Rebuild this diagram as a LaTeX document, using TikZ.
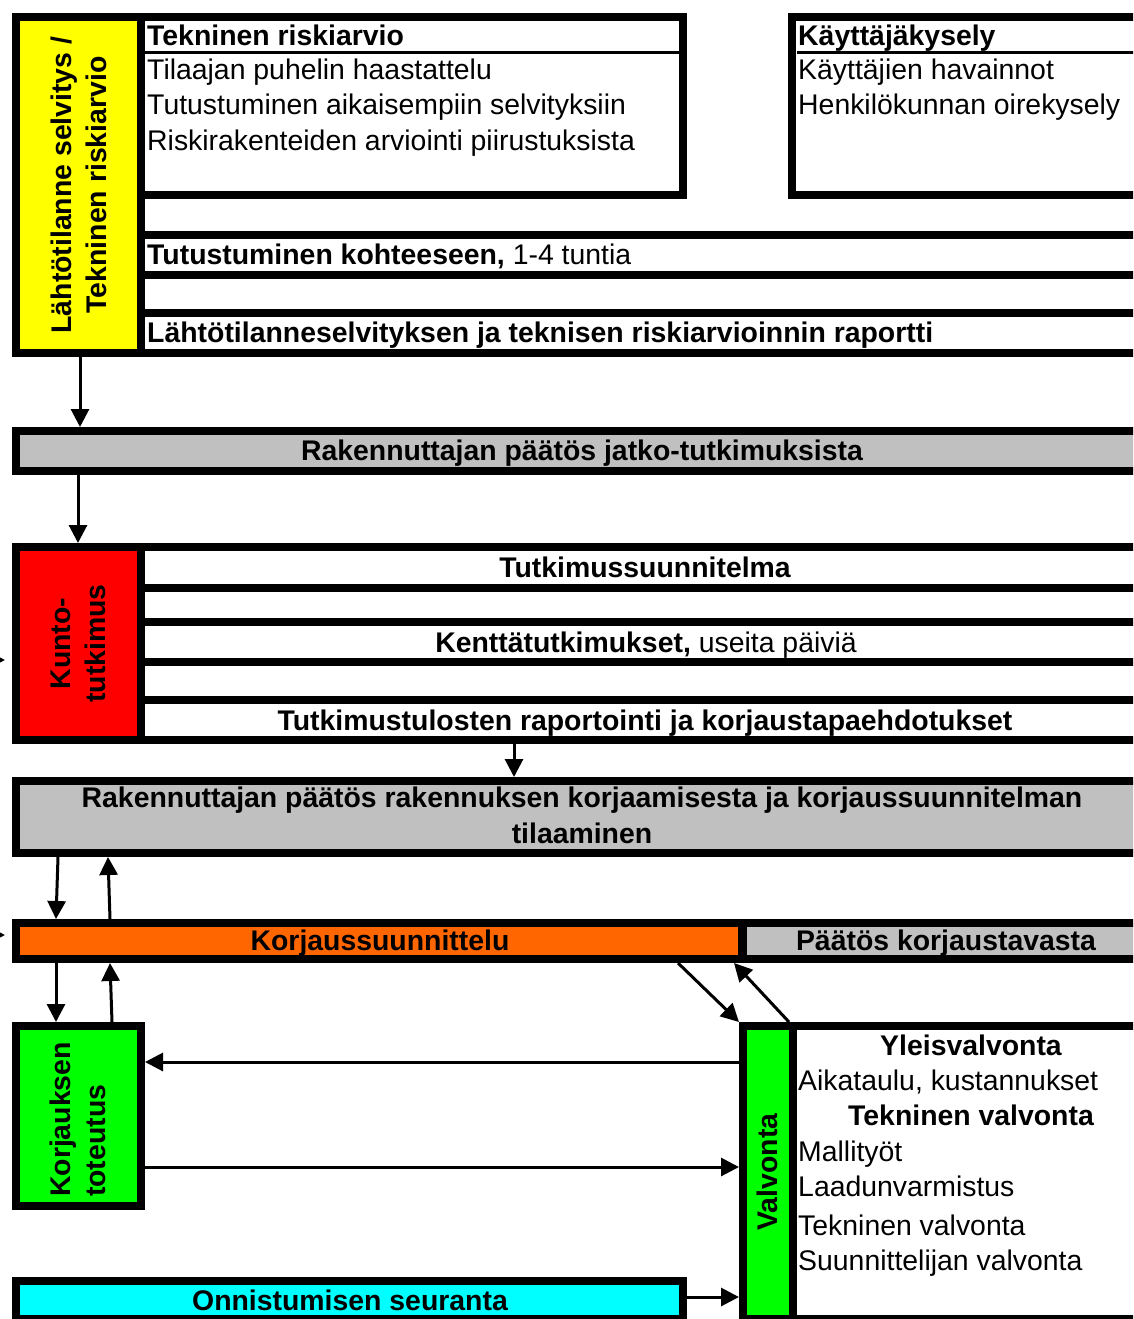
\documentclass[tikz,border=0pt]{standalone}
\usepackage{fontspec}
\setmainfont{Liberation Sans}
\usetikzlibrary{arrows.meta,calc}
\definecolor{cyel}{HTML}{FFFF00}
\definecolor{cred}{HTML}{FF0000}
\definecolor{cgray}{HTML}{C0C0C0}
\definecolor{corange}{HTML}{FF6600}
\definecolor{cgreen}{HTML}{00FF00}
\definecolor{ccyan}{HTML}{00FFFF}
\begin{document}
\begin{tikzpicture}[x=1pt,y=-1pt,
  box/.style={draw=black,line width=8pt,inner sep=0pt,outer sep=4pt,anchor=north west},
  hline/.style={line width=3pt},
  arr/.style={line width=3pt,-{Triangle[length=18pt,width=18pt]}},
  txt/.style={inner sep=0pt,text=black,font=\fontsize{28.4}{35}\selectfont},
  btxt/.style={inner sep=0pt,text=black,font=\fontsize{28.4}{35}\selectfont\bfseries},
  lw/.style={txt,anchor=base west},
  blw/.style={btxt,anchor=base west},
  bc/.style={btxt,anchor=base},
]
\useasboundingbox (0,0) rectangle (1133,1319);
\clip (0,0) rectangle (1133,1319);
\fill[white] (0,0) rectangle (1133,1319);

% ---------- top group ----------
\node[box,fill=white,minimum width=542pt,minimum height=178pt] (tr) at (137,13) {};
\node[box,fill=white,minimum width=354pt,minimum height=178pt] (kk) at (788,13) {};
\node[box,fill=white,minimum width=1005pt,minimum height=40pt] (tk) at (137,231) {};
\node[box,fill=white,minimum width=1005pt,minimum height=40pt] (rp) at (137,309) {};
\node[box,fill=cyel,minimum width=125pt,minimum height=336pt] (lt) at (12,13) {};
\draw[hline] (145,52.5) -- (679,52.5);
\draw[hline] (797,52.5) -- (1140,52.5);

\node[btxt,rotate=90,align=center] (ltl) at (lt.center) {Lähtötilanne selvitys /\\Tekninen riskiarvio};
\node[blw] (trh) at (147,46) {Tekninen riskiarvio};
\node[lw] (tr1) at (147,80) {Tilaajan puhelin haastattelu};
\node[lw] (tr2) at (147,115) {Tutustuminen aikaisempiin selvityksiin};
\node[lw] (tr3) at (147,150) {Riskirakenteiden arviointi piirustuksista};
\node[blw] (kkh) at (798,46) {Käyttäjäkysely};
\node[lw] (kk1) at (798,80) {Käyttäjien havainnot};
\node[lw] (kk2) at (798,115) {Henkilökunnan oirekysely};
\node[lw] (tkl) at (147,264) {\textbf{Tutustuminen kohteeseen,} 1-4 tuntia};
\node[blw] (rpl) at (147,342) {Lähtötilanneselvityksen ja teknisen riskiarvioinnin raportti};

% ---------- decision 1 ----------
\node[box,fill=cgray,minimum width=1130pt,minimum height=40pt] (g1) at (12,427) {};
\node[bc] (g1l) at (582,460) {Rakennuttajan päätös jatko-tutkimuksista};

% ---------- kuntotutkimus ----------
\node[box,fill=white,minimum width=1005pt,minimum height=41pt] (r1) at (137,543) {};
\node[box,fill=white,minimum width=1005pt,minimum height=40pt] (r3) at (137,618) {};
\node[box,fill=white,minimum width=1005pt,minimum height=40pt] (r5) at (137,696) {};
\node[box,fill=cred,minimum width=125pt,minimum height=193pt] (kt) at (12,543) {};
\node[btxt,rotate=90,align=center] (ktl) at (kt.center) {Kunto-\\tutkimus};
\node[bc] (r1l) at (645,577) {Tutkimussuunnitelma};
\node[txt,anchor=base] (r3l) at (646,652) {\textbf{Kenttätutkimukset,} useita päiviä};
\node[bc] (r5l) at (645,730) {Tutkimustulosten raportointi ja korjaustapaehdotukset};

% ---------- decision 2 ----------
\node[box,fill=cgray,minimum width=1130pt,minimum height=72pt] (g2) at (12,777) {};
\node[bc] (g2a) at (582,807) {Rakennuttajan päätös rakennuksen korjaamisesta ja korjaussuunnitelman};
\node[bc] (g2b) at (582,843) {tilaaminen};

% ---------- korjaussuunnittelu ----------
\node[box,fill=corange,minimum width=726pt,minimum height=36pt] (ks) at (12,919) {};
\node[box,fill=cgray,minimum width=403pt,minimum height=36pt] (pk) at (739,919) {};
\node[bc] (ksl) at (380,950) {Korjaussuunnittelu};
\node[bc] (pkl) at (946,950) {Päätös korjaustavasta};

% ---------- toteutus / valvonta ----------
\node[box,fill=cgreen,minimum width=125pt,minimum height=180pt] (kr) at (12,1022) {};
\node[btxt,rotate=90,align=left,anchor=west] (krl) at (78,1197) {Korjauksen\\toteutus};
\node[box,fill=white,minimum width=353pt,minimum height=293pt] (vp) at (789,1022) {};
\node[box,fill=cgreen,minimum width=50pt,minimum height=293pt] (vv) at (739,1022) {};
\node[btxt,rotate=90] (vvl) at (767,1172) {Valvonta};
\node[bc] (vp1) at (971,1055) {Yleisvalvonta};
\node[lw] (vp2) at (798,1090) {Aikataulu, kustannukset};
\node[bc] (vp3) at (971,1125) {Tekninen valvonta};
\node[lw] (vp4) at (798,1161) {Mallityöt};
\node[lw] (vp5) at (798,1196) {Laadunvarmistus};
\node[lw] (vp6) at (798,1235) {Tekninen valvonta};
\node[lw] (vp7) at (798,1270) {Suunnittelijan valvonta};

\node[box,fill=ccyan,minimum width=667pt,minimum height=38pt] (os) at (12,1277) {};
\node[bc] (osl) at (350,1310) {Onnistumisen seuranta};

% ---------- connectors ----------
\draw[arr] ([xshift=68pt]lt.south west) -- ([xshift=68pt]g1.north west);
\draw[arr] ([xshift=66pt]g1.south west) -- ([xshift=66pt]kt.north west);
\draw[arr] ([xshift=377pt]r5.south west) -- ([xshift=502pt]g2.north west);
\draw[arr] ([xshift=46pt]g2.south west) -- ([xshift=44pt]ks.north west);
\draw[arr] ([xshift=98pt]ks.north west) -- ([xshift=96pt]g2.south west);
\draw[arr] ([xshift=44pt]ks.south west) -- ([xshift=44pt]kr.north west);
\draw[arr] ([xshift=100pt]kr.north west) -- ([xshift=98pt]ks.south west);
\draw[arr] ([xshift=666pt]ks.south west) -- (vv.north west);
\draw[arr] ([xshift=-8pt]vv.north east) -- ([xshift=-5pt]pk.south west);
\draw[arr] ([yshift=-40pt]vv.north west) -- ([yshift=-40pt]kr.north east);
\draw[arr] ([yshift=-145pt]kr.north east) -- ([yshift=-145pt]vv.north west);
\draw[arr] ([yshift=3pt]os.east) coordinate (o1) -- (o1 -| vv.west);

% cut-off arrow tips at the left edge
\coordinate (e1a) at (-40,660);
\coordinate (e1b) at (5,660);
\coordinate (e2a) at (-40,935);
\coordinate (e2b) at (5,935);
\draw[arr] (e1a) -- (e1b);
\draw[arr] (e2a) -- (e2b);
\end{tikzpicture}
\end{document}
